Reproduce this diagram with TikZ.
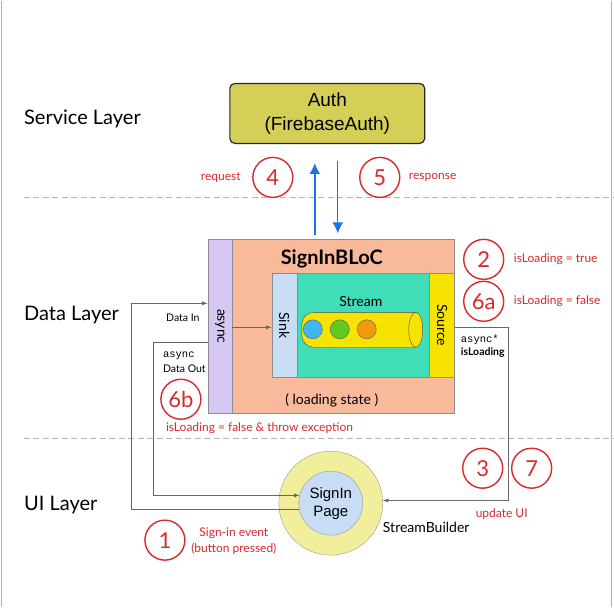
\documentclass[tikz,border=0pt]{standalone}
\usepackage{fontspec}
\setmainfont{Lato}
\setsansfont{Liberation Sans}
\setmonofont{Liberation Mono}
\usepackage{tikz}
\usetikzlibrary{arrows,arrows.meta,backgrounds,calc}

\definecolor{authfill}{HTML}{D3CF57}
\definecolor{blocfill}{HTML}{F9B99B}
\definecolor{asyncfill}{HTML}{D6C8F2}
\definecolor{sinkfill}{HTML}{C9DDF5}
\definecolor{streamfill}{HTML}{40DDB9}
\definecolor{sourcefill}{HTML}{F6E300}
\definecolor{stepred}{HTML}{D62A2D}
\definecolor{flowblue}{HTML}{1A73E8}
\definecolor{pageouter}{HTML}{F1EF9B}
\definecolor{pageinner}{HTML}{C8DCF5}
\definecolor{ballblue}{HTML}{3FB6F5}
\definecolor{ballgreen}{HTML}{5FCB1C}
\definecolor{ballorange}{HTML}{F29A0C}

\tikzset{
  stepno/.style={circle, draw=stepred, line width=1.4pt, minimum size=40pt, inner sep=0pt, text=stepred, font=\fontsize{22}{22}\selectfont},
  steptext/.style={text=stepred, font=\fontsize{12}{16}\selectfont, align=center, inner sep=0pt},
  layertext/.style={anchor=base west, inner sep=0pt, font=\fontsize{20}{24}\selectfont},
  box/.style={draw=black!45, line width=0.6pt, inner sep=0pt},
  boxtext/.style={rotate=-90, inner sep=0pt, font=\fontsize{14}{14}\selectfont},
  wire/.style={draw=black!60, line width=0.9pt},
  flow/.style={draw=flowblue, -{Latex[length=11pt,width=11pt]}},
  ball/.style={circle, draw=black!60, line width=0.5pt, minimum size=19pt, inner sep=0pt},
  separator/.style={draw=black!30, dash pattern=on 6pt off 3.5pt, line width=0.8pt}
}

\begin{document}
\begin{tikzpicture}[x=1pt,y=-1pt,>=latex]
\fill[white] (0,0) rectangle (614,607);
\draw[black!30, line width=1pt] (2,0) -- (2,607);
\draw[black!30, line width=1pt] (612,0) -- (612,607);
\draw[separator] (24,197) -- (614,197);
\draw[separator] (24,438) -- (614,438);

\node[layertext] (service) at (24,124) {Service Layer};
\node[layertext] (data) at (24,320) {Data Layer};
\node[layertext] (ui) at (24,510) {UI Layer};

\node[draw=black!85, line width=1.2pt, rounded corners=5pt, fill=authfill, minimum width=195pt, minimum height=60pt, align=center, font=\sffamily\fontsize{19}{24}\selectfont] (auth) at (327.5,113) {Auth\\(FirebaseAuth)};

\node[box, fill=blocfill, minimum width=247pt, minimum height=174pt] (bloc) at (331.5,326) {};
\node[box, fill=asyncfill, minimum width=24pt, minimum height=174pt] (async) at (220,326) {};
\node[boxtext] (asynctext) at (async.center) {async};
\node[font=\bfseries\fontsize{20}{20}\selectfont] (bloctitle) at (332,259) {SignInBLoC};
\node[box, fill=sinkfill, minimum width=25pt, minimum height=104pt] (sink) at (284.5,325) {};
\node[box, fill=streamfill, minimum width=133pt, minimum height=104pt] (stream) at (363.5,325) {};
\node[box, fill=sourcefill, minimum width=25pt, minimum height=104pt] (source) at (442.5,325) {};
\node[boxtext] (sinktext) at (sink.center) {Sink};
\node[boxtext] (sourcetext) at (source.center) {Source};
\node[font=\fontsize{14}{14}\selectfont] (streamtext) at (361,301) {Stream};
\draw[black!70, fill=sourcefill, rounded corners=12pt] (416,312) -- (302,312) -- (302,347) -- (416,347);
\draw[black!70, fill=sourcefill] (416,329.5) ellipse [x radius=7pt, y radius=17.5pt];
\node[ball, fill=ballblue] (ball1) at (313,329) {};
\node[ball, fill=ballgreen] (ball2) at (340,329) {};
\node[ball, fill=ballorange] (ball3) at (367,329) {};
\node[font=\fontsize{14}{14}\selectfont] (loading) at (332,400) {( loading state )};

\coordinate (reqfoot) at (315,235);
\coordinate (respfoot) at (338,233);
\draw[flow,line width=2pt,shorten >=19pt] (reqfoot) -- (reqfoot |- auth.south);
\draw[flow,line width=1.3pt,shorten <=17pt] (respfoot |- auth.south) -- (respfoot);

\node[circle, draw=black!40, fill=pageouter, minimum size=104pt, inner sep=0pt] (builder) at (331,503) {};
\node[circle, draw=black!40, fill=pageinner, minimum size=64pt, inner sep=0pt, align=center, font=\sffamily\fontsize{15}{18}\selectfont] (page) at (331,503) {SignIn\\Page};
\node[anchor=base west, inner sep=0pt, font=\fontsize{14}{14}\selectfont] (buildertext) at (383,532) {StreamBuilder};

\coordinate (datain) at (132,303);
\coordinate (dataout) at (154,342);
\coordinate (sinkin) at (250,327);
\coordinate (sourceout) at (509,327);
\draw[wire,->] (page.192) -| (datain) -- (datain -| async.west);
\draw[wire,->] (dataout -| async.west) -- (dataout) |- (page.166);
\draw[wire,->] (sinkin -| async.east) -- (sinkin -| sink.west);
\draw[wire,->] (sourceout -| source.east) -- (sourceout) |- (builder.3);

\node[anchor=base, inner sep=0pt, font=\fontsize{10.5}{12}\selectfont] (dataintext) at (183,321) {Data In};
\node[anchor=base west, inner sep=0pt, font=\ttfamily\fontsize{10.5}{12}\selectfont] (asyncout) at (163,357) {async};
\node[anchor=base west, inner sep=0pt, font=\fontsize{10.5}{12}\selectfont] (dataouttext) at (163,372) {Data Out};
\node[anchor=base west, inner sep=0pt, font=\ttfamily\fontsize{10.5}{12}\selectfont] (asyncstar) at (461,342) {async*};
\node[anchor=base west, inner sep=0pt, font=\bfseries\fontsize{10.5}{12}\selectfont] (isloading) at (461,355) {isLoading};

\node[stepno] (step1) at (165,540) {1};
\node[stepno] (step2) at (484,259) {2};
\node[stepno] (step3) at (483,468) {3};
\node[stepno] (step4) at (273,177) {4};
\node[stepno] (step5) at (380,177) {5};
\node[stepno] (step6a) at (484,301) {6a};
\node[stepno] (step6b) at (181,399) {6b};
\node[stepno] (step7) at (532,468) {7};

\node[steptext, anchor=east] (request) at (241,177) {request};
\node[steptext, anchor=west] (response) at (409,177) {response};
\node[steptext, anchor=west] (loadtrue) at (514,259) {isLoading = true};
\node[steptext, anchor=west] (loadfalse) at (514,301) {isLoading = false};
\node[steptext, anchor=west] (loadthrow) at (166,428) {isLoading = false \& throw exception};
\node[steptext] (updateui) at (502,514) {update UI};
\node[steptext] (signinevent) at (234,541) {Sign-in event\\(button pressed)};
\end{tikzpicture}
\end{document}
